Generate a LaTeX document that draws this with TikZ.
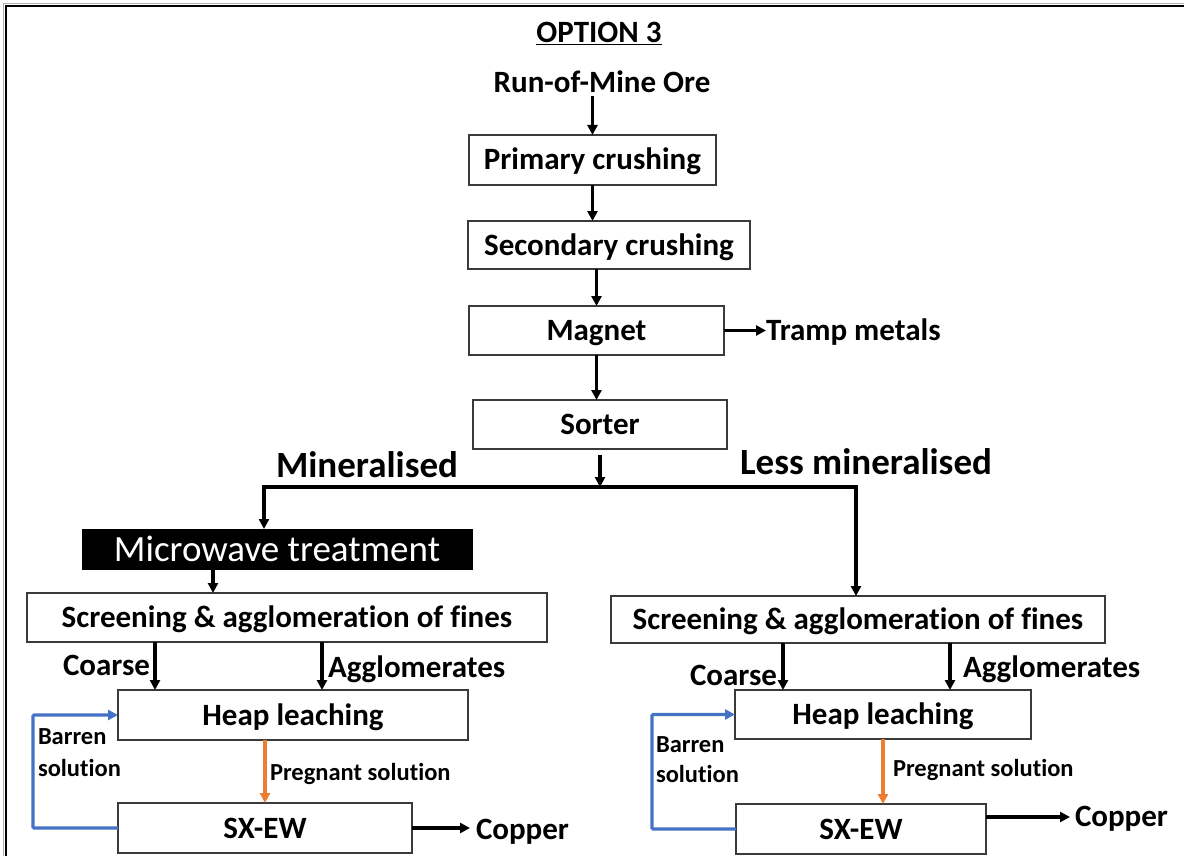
\documentclass[tikz,border=0pt]{standalone}
\usepackage{fontspec}
\setmainfont{Carlito}[Ligatures=NoCommon]
\usetikzlibrary{arrows.meta}
\definecolor{loopblue}{HTML}{4472C4}
\definecolor{pregorange}{HTML}{ED7D31}
\definecolor{boxline}{HTML}{3A3A3A}
\begin{document}
\begin{tikzpicture}[x=1pt,y=-1pt,
  every node/.style={inner sep=0pt, outer sep=0pt},
  txt/.style={font=\fontsize{31}{36}\selectfont\bfseries, text height=23pt, text depth=3pt},
  bigtxt/.style={font=\fontsize{37}{42}\selectfont\bfseries, text height=27pt, text depth=3pt},
  smalltxt/.style={font=\fontsize{24.5}{31}\selectfont\bfseries, text height=18pt, text depth=2pt},
  notetxt/.style={align=left, font=\fontsize{24.5}{#1}\selectfont\bfseries},
  procbox/.style={txt, draw=boxline, line width=1.3pt, fill=white},
  arr/.style={line width=3.1pt, -{Triangle[length=10pt,width=10pt]}},
  barr/.style={arr, loopblue},
  oarr/.style={arr, pregorange}
]
\useasboundingbox (0,0) rectangle (1184,856);
\fill[white] (0,0) rectangle (1184,856);
% page frame
\draw[gray!60, line width=1pt] (3.5,856) -- (3.5,3.5) -- (1184,3.5);
\draw[black, line width=2pt] (6,856) -- (6,6) -- (1184,6);

% main line
\node[txt] (title) at (599,33) {\underline{OPTION 3}};
\node[txt] (rom) at (602,83) {Run-of-Mine Ore};
\node[procbox, minimum width=247pt, minimum height=50pt] (prim) at (592.5,160) {Primary crushing};
\node[procbox, minimum width=282pt, minimum height=48pt] (sec) at (609,245) {Secondary crushing};
\node[procbox, minimum width=255pt, minimum height=49pt] (mag) at (596.5,330.5) {Magnet};
\node[txt, anchor=west] (tramp) at (766,330) {Tramp metals};
\node[procbox, minimum width=254pt, minimum height=49pt] (sort) at (600,424.5) {Sorter};

\draw[arr] (rom.south -| prim.north) -- (prim.north);
\draw[arr] (prim.south) -- (prim.south |- sec.north);
\draw[arr] (mag.north |- sec.south) -- (mag.north);
\draw[arr] (mag.east) -- (tramp.west |- mag.east);
\draw[arr] (mag.south) -- (mag.south |- sort.north);

% split after the sorter
\node[bigtxt] (minl) at (367,465) {Mineralised};
\node[bigtxt] (lessm) at (866,462) {Less mineralised};
\coordinate (split) at (600,487);
\coordinate (splitL) at (264,487);
\coordinate (splitR) at (856,487);
\draw[line width=3.1pt, line cap=rect] (splitL) -- (splitR);
\draw[arr] ([yshift=-6pt]sort.south) -- (split);

% mineralised branch
\node[draw=black, fill=black, text=white, font=\fontsize{37}{42}\selectfont,
      text height=27pt, text depth=3pt,
      minimum width=390pt, minimum height=40pt] (mw) at (277,549) {Microwave treatment};
\draw[arr] (splitL) -- (splitL |- mw.north);
\node[procbox, minimum width=520pt, minimum height=49pt] (scrL) at (287,617.5) {Screening \& agglomeration of fines};
\draw[arr] ([xshift=131pt]mw.south west) -- ([xshift=131pt]mw.south west |- scrL.north);
\node[procbox, minimum width=350pt, minimum height=50pt] (heapL) at (293,715) {Heap leaching};
\node[procbox, minimum width=294pt, minimum height=50pt] (sxL) at (265,828) {SX-EW};
\draw[arr] ([xshift=37pt]heapL.north west |- scrL.south) -- ([xshift=37pt]heapL.north west);
\draw[arr] ([xshift=204pt]heapL.north west |- scrL.south) -- ([xshift=204pt]heapL.north west);
\node[txt, anchor=east] (coarseL) at (150,665) {Coarse};
\node[txt, anchor=west] (aggL) at (328,667) {Agglomerates};
\draw[oarr] (sxL.north |- heapL.south) -- (sxL.north);
\node[smalltxt, anchor=west] (pregL) at (270,772) {Pregnant solution};
\draw[barr, rounded corners=1pt] (sxL.west) -- ++(-85,0) |- (heapL.west);
\node[notetxt=32, anchor=north west] (barL) at (38,729) {Barren\\solution};
\node[txt, anchor=west] (cuL) at (476,829) {Copper};
\draw[arr] (sxL.east) -- ([xshift=-6pt]cuL.west |- sxL.east);

% less mineralised branch
\node[procbox, minimum width=494pt, minimum height=47pt] (scrR) at (858,619.5) {Screening \& agglomeration of fines};
\draw[arr] (splitR) -- (splitR |- scrR.north);
\node[procbox, minimum width=296pt, minimum height=49pt] (heapR) at (883,714.5) {Heap leaching};
\node[procbox, minimum width=250pt, minimum height=50pt] (sxR) at (861,829) {SX-EW};
\draw[arr] ([xshift=48pt]heapR.north west |- scrR.south) -- ([xshift=48pt]heapR.north west);
\draw[arr] ([xshift=215pt]heapR.north west |- scrR.south) -- ([xshift=215pt]heapR.north west);
\node[txt, anchor=east] (coarseR) at (777,675) {Coarse};
\node[txt, anchor=west] (aggR) at (963,667) {Agglomerates};
\draw[oarr] (heapR.south) -- (heapR.south |- sxR.north);
\node[smalltxt, anchor=west] (pregR) at (893,768) {Pregnant solution};
\draw[barr, rounded corners=1pt] (sxR.west) -- ++(-84,0) |- (heapR.west);
\node[notetxt=30, anchor=north west] (barR) at (656,737) {Barren\\solution};
\node[txt, anchor=west] (cuR) at (1075,816) {Copper};
\draw[arr] ([yshift=12pt]sxR.east) -- ([xshift=-5pt]cuR.west |- 0,817);
\end{tikzpicture}
\end{document}
